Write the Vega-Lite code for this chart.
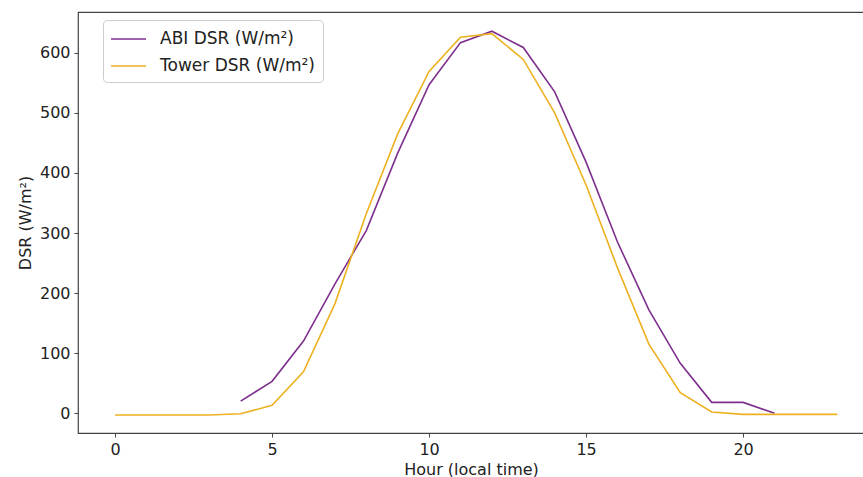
{
  "$schema": "https://vega.github.io/schema/vega-lite/v6.json",
  "width": 786,
  "height": 421,
  "autosize": {"type": "none"},
  "padding": {"left": 78, "top": 12, "right": 0, "bottom": 44},
  "background": "white",
  "config": {
    "font": "DejaVu Sans",
    "view": {"stroke": "#444", "strokeWidth": 1.2},
    "axis": {"grid": false, "domain": false, "tickColor": "#444", "tickSize": 4, "labelFontSize": 16, "titleFontSize": 16, "labelColor": "#222", "titleColor": "#222", "titleFontWeight": "normal", "labelFont": "DejaVu Sans", "titleFont": "DejaVu Sans"}
  },
  "data": {"values": [
    {"hour": 4, "series": "ABI DSR (W/m²)", "dsr": 20},
    {"hour": 5, "series": "ABI DSR (W/m²)", "dsr": 53},
    {"hour": 6, "series": "ABI DSR (W/m²)", "dsr": 120},
    {"hour": 7, "series": "ABI DSR (W/m²)", "dsr": 215},
    {"hour": 8, "series": "ABI DSR (W/m²)", "dsr": 304},
    {"hour": 9, "series": "ABI DSR (W/m²)", "dsr": 433},
    {"hour": 10, "series": "ABI DSR (W/m²)", "dsr": 547},
    {"hour": 11, "series": "ABI DSR (W/m²)", "dsr": 617},
    {"hour": 12, "series": "ABI DSR (W/m²)", "dsr": 636},
    {"hour": 13, "series": "ABI DSR (W/m²)", "dsr": 609},
    {"hour": 14, "series": "ABI DSR (W/m²)", "dsr": 535},
    {"hour": 15, "series": "ABI DSR (W/m²)", "dsr": 418},
    {"hour": 16, "series": "ABI DSR (W/m²)", "dsr": 285},
    {"hour": 17, "series": "ABI DSR (W/m²)", "dsr": 172},
    {"hour": 18, "series": "ABI DSR (W/m²)", "dsr": 83},
    {"hour": 19, "series": "ABI DSR (W/m²)", "dsr": 18},
    {"hour": 20, "series": "ABI DSR (W/m²)", "dsr": 18},
    {"hour": 21, "series": "ABI DSR (W/m²)", "dsr": 0},
    {"hour": 0, "series": "Tower DSR (W/m²)", "dsr": -3},
    {"hour": 1, "series": "Tower DSR (W/m²)", "dsr": -3},
    {"hour": 2, "series": "Tower DSR (W/m²)", "dsr": -3},
    {"hour": 3, "series": "Tower DSR (W/m²)", "dsr": -3},
    {"hour": 4, "series": "Tower DSR (W/m²)", "dsr": -1},
    {"hour": 5, "series": "Tower DSR (W/m²)", "dsr": 13},
    {"hour": 6, "series": "Tower DSR (W/m²)", "dsr": 69},
    {"hour": 7, "series": "Tower DSR (W/m²)", "dsr": 182},
    {"hour": 8, "series": "Tower DSR (W/m²)", "dsr": 332},
    {"hour": 9, "series": "Tower DSR (W/m²)", "dsr": 465},
    {"hour": 10, "series": "Tower DSR (W/m²)", "dsr": 569},
    {"hour": 11, "series": "Tower DSR (W/m²)", "dsr": 626},
    {"hour": 12, "series": "Tower DSR (W/m²)", "dsr": 632},
    {"hour": 13, "series": "Tower DSR (W/m²)", "dsr": 589},
    {"hour": 14, "series": "Tower DSR (W/m²)", "dsr": 500},
    {"hour": 15, "series": "Tower DSR (W/m²)", "dsr": 380},
    {"hour": 16, "series": "Tower DSR (W/m²)", "dsr": 242},
    {"hour": 17, "series": "Tower DSR (W/m²)", "dsr": 115},
    {"hour": 18, "series": "Tower DSR (W/m²)", "dsr": 34},
    {"hour": 19, "series": "Tower DSR (W/m²)", "dsr": 2},
    {"hour": 20, "series": "Tower DSR (W/m²)", "dsr": -2},
    {"hour": 21, "series": "Tower DSR (W/m²)", "dsr": -2},
    {"hour": 22, "series": "Tower DSR (W/m²)", "dsr": -2},
    {"hour": 23, "series": "Tower DSR (W/m²)", "dsr": -2}
  ]},
  "mark": {"type": "line", "strokeWidth": 1.6},
  "encoding": {
    "x": {"field": "hour", "type": "quantitative", "scale": {"domain": [-1.18, 23.85], "nice": false, "zero": false},
          "axis": {"values": [0, 5, 10, 15, 20], "title": "Hour (local time)", "titlePadding": 4, "labelPadding": 4}},
    "y": {"field": "dsr", "type": "quantitative", "scale": {"domain": [-33, 668], "nice": false, "zero": false},
          "axis": {"values": [0, 100, 200, 300, 400, 500, 600], "title": "DSR (W/m²)", "titlePadding": 6, "labelPadding": 4}},
    "color": {"field": "series", "type": "nominal",
      "scale": {"domain": ["ABI DSR (W/m²)", "Tower DSR (W/m²)"], "range": ["#7E2F8E", "#EDB120"]},
      "legend": {"title": null, "orient": "none", "legendX": 25, "legendY": 8, "symbolType": "M-1.1,0L2.4,0", "symbolSize": 400, "symbolStrokeWidth": 1.6, "labelFontSize": 17, "labelColor": "#222", "labelOffset": 27, "rowPadding": 8, "padding": 8, "strokeColor": "#ccc", "fillColor": "white", "cornerRadius": 4}
    }
  }
}
